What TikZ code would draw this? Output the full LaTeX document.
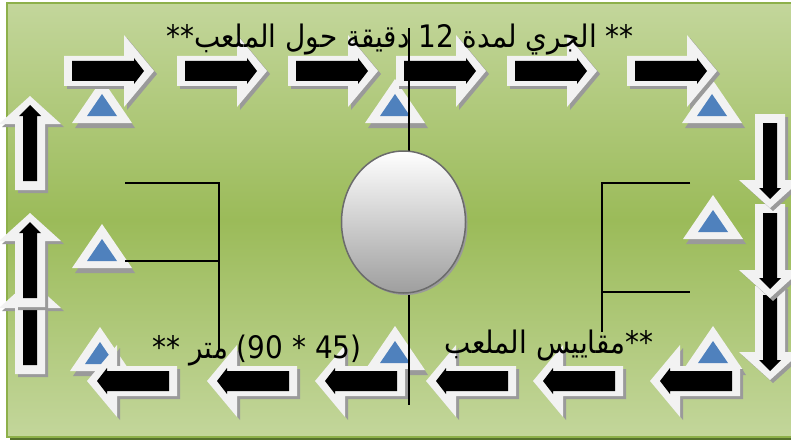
\documentclass[tikz,border=0pt]{standalone}
\usepackage{fontspec}
\setmainfont{DejaVu Sans}
\newfontfamily\arabicfont[Script=Arabic, FakeStretch=0.9]{DejaVu Sans}
\TeXXeTstate=1
\usetikzlibrary{shapes.geometric}

\definecolor{fieldlight}{HTML}{C3D69B}
\definecolor{fieldmid}{HTML}{9BBB59}
\definecolor{fieldedge}{HTML}{8DB04A}
\definecolor{fieldshadow}{HTML}{55702C}
\definecolor{arrowwhite}{HTML}{F2F2F2}
\definecolor{shadowgray}{HTML}{9A9A9A}
\definecolor{warnblue}{HTML}{4F81BD}
\definecolor{ballrim}{HTML}{6B6B6B}

\tikzset{
  % block arrows, drawn pointing to +x, centred on the origin
  pics/hbody/.style={code={\path[pic actions] (-45,-15) -- (15,-15) -- (15,-36) -- (45,0) -- (15,36) -- (15,15) -- (-45,15) -- cycle;}},
  pics/hcore/.style={code={\fill[black] (-37,-10) -- (25,-10) -- (25,-13) -- (35,0) -- (25,13) -- (25,10) -- (-37,10) -- cycle;}},
  pics/vbody/.style={code={\path[pic actions] (-47,-15) -- (19,-15) -- (19,-31) -- (47,0) -- (19,31) -- (19,15) -- (-47,15) -- cycle;}},
  pics/vcore/.style={code={\fill[black] (-38,-7) -- (27,-7) -- (27,-11) -- (38,0) -- (27,11) -- (27,7) -- (-38,7) -- cycle;}},
  thinline/.style={black, line width=1.2pt},
  label/.style={font=\arabicfont\fontsize{31}{36}\selectfont, inner sep=0pt, anchor=base},
}

% #1 = h or v, #2,#3 = centre, #4 = direction angle
\newcommand\blockarrow[4]{%
  \pic[fill=shadowgray, rotate=#4] at (#2+3,#3+3) {#1body};
  \pic[fill=arrowwhite, rotate=#4] at (#2,#3) {#1body};
  \pic[rotate=#4] at (#2,#3) {#1core};
}
% cone marker: #1,#2 = middle of its base
\newcommand\conemarker[2]{%
  \fill[shadowgray] (#1-27,#2+5) -- (#1+3,#2-39) -- (#1+33,#2+5) -- cycle;
  \fill[arrowwhite] (#1-30,#2) -- (#1,#2-44) -- (#1+30,#2) -- cycle;
  \fill[warnblue] (#1-15,#2-7) -- (#1,#2-29) -- (#1+15,#2-7) -- cycle;
}

\begin{document}
\begin{tikzpicture}[x=1pt, y=-1pt, line join=miter]
\useasboundingbox (0,0) rectangle (791,441);

% the pitch
\fill[fieldshadow] (10,6) rectangle (803,440);
\shade[top color=fieldlight, bottom color=fieldlight, middle color=fieldmid] (7,3) rectangle (800,437);
\draw[fieldedge, line width=1.5pt] (7,3) rectangle (800,437);

% cone markers
\conemarker{102}{123}
\conemarker{395}{123}
\conemarker{712}{123}
\conemarker{102}{268}
\conemarker{713}{239}
\conemarker{100}{371}
\conemarker{395}{370}
\conemarker{713}{370}

% running direction: top row to the right
\blockarrow{h}{109}{71}{0}
\blockarrow{h}{222}{71}{0}
\blockarrow{h}{333}{71}{0}
\blockarrow{h}{441}{71}{0}
\blockarrow{h}{552}{71}{0}
\blockarrow{h}{672}{71}{0}

% right side downwards
\blockarrow{v}{770}{333}{-90}
\blockarrow{v}{770}{251}{-90}
\blockarrow{v}{770}{161}{-90}

% bottom row to the left
\blockarrow{h}{695}{381}{180}
\blockarrow{h}{578}{381}{180}
\blockarrow{h}{471}{381}{180}
\blockarrow{h}{360}{381}{180}
\blockarrow{h}{252}{381}{180}
\blockarrow{h}{132}{381}{180}

% left side upwards
\blockarrow{v}{30}{327}{90}
\blockarrow{v}{30}{260}{90}
\blockarrow{v}{30}{143}{90}

% halfway line and goal areas
\draw[thinline] (409,28) -- (409,405);
\draw[thinline] (125,183) -- (219,183) -- (219,350);
\draw[thinline] (125,261) -- (219,261);
\draw[thinline] (690,183) -- (602,183) -- (602,332);
\draw[thinline] (602,292) -- (690,292);

% centre ball
\fill[shadowgray] (405.5,224) ellipse [x radius=62, y radius=71];
\node[ellipse, draw=ballrim, line width=1.5pt, top color=white, bottom color=black!38,
      minimum width=124, minimum height=142, inner sep=0pt] (ball) at (403.5,222) {};

% captions
\node[label] (title) at (400,48) {\beginR\mbox{**} الجري لمدة \mbox{12} دقيقة حول الملعب\mbox{**}\endR};
\node[label] (sizeword) at (549,353) {\beginR\mbox{**}مقاييس الملعب\endR};
\node[label] (sizevalue) at (257,358) {\beginR\mbox{(45 * 90)} متر \mbox{**}\endR};
\end{tikzpicture}
\end{document}
